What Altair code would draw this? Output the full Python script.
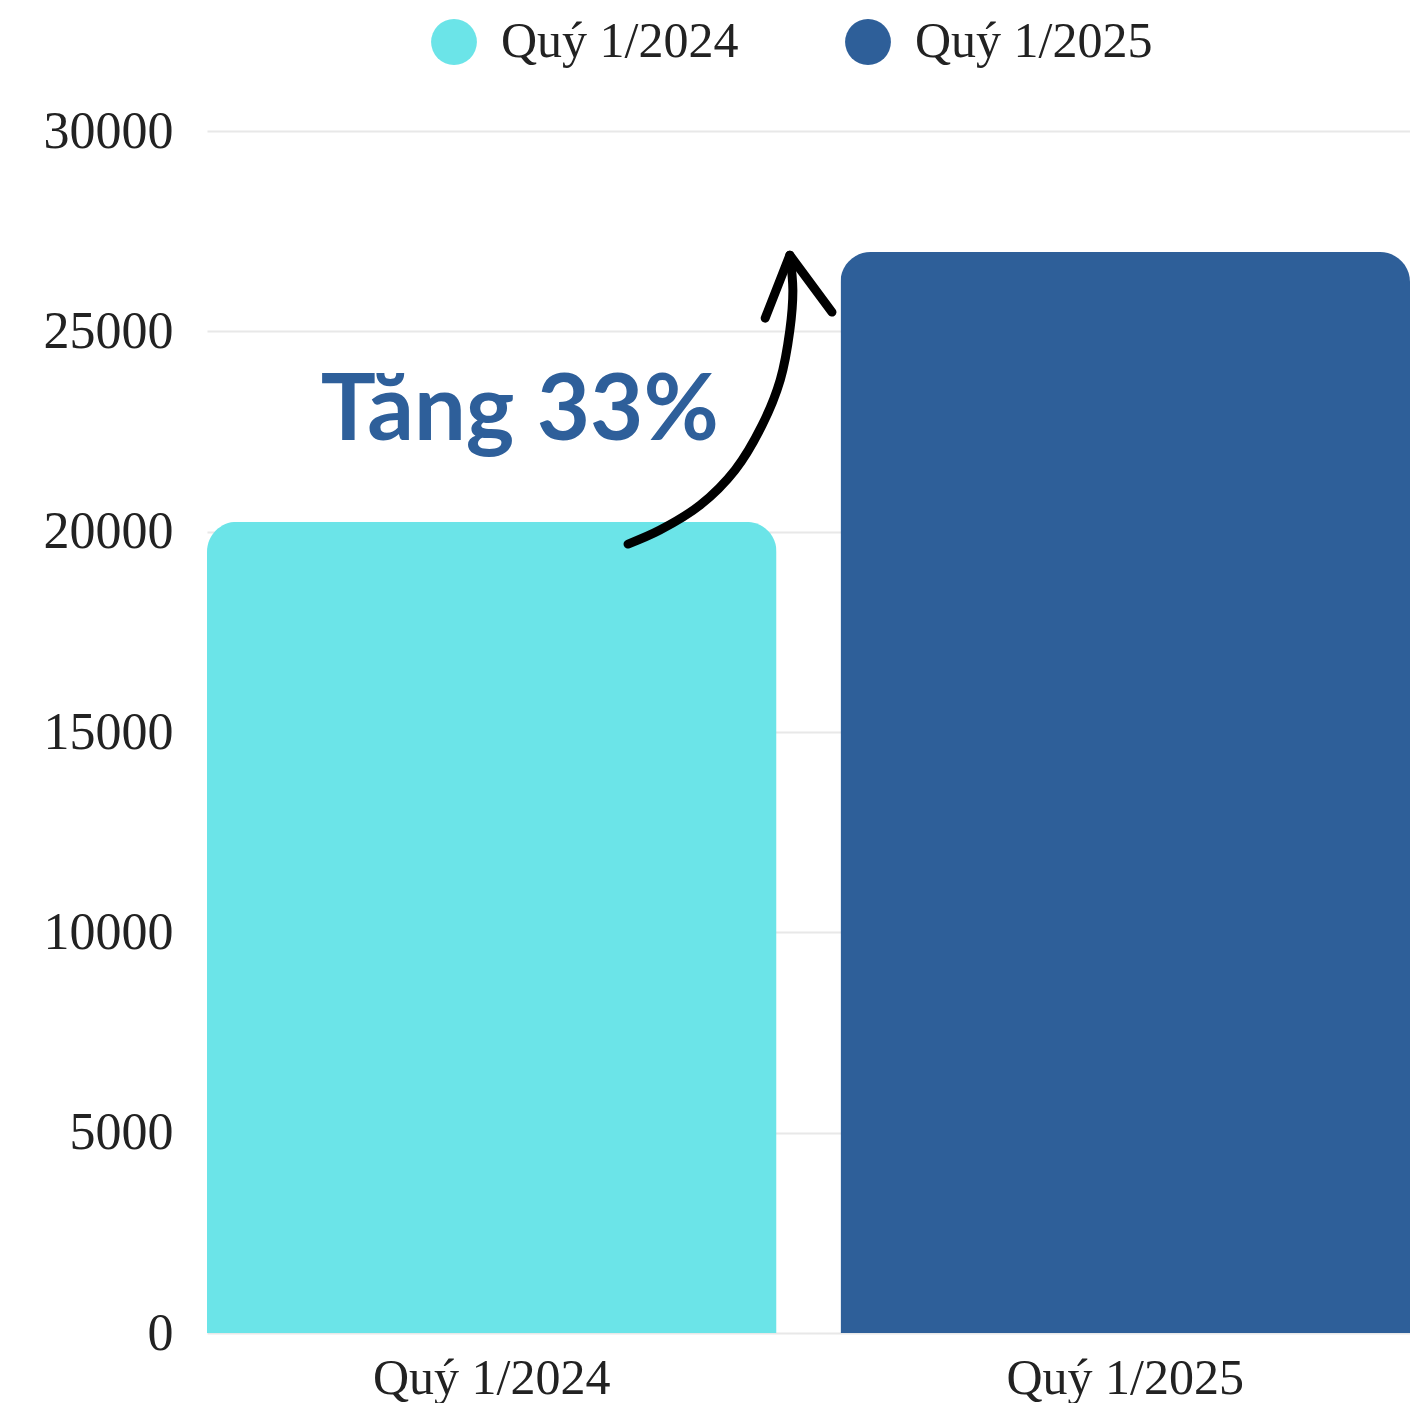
import altair as alt
import pandas as pd

categories = ["Quý 1/2024", "Quý 1/2025"]
values = [20250, 26980]
colors = ["#6be4e8", "#2e5f99"]
y_ticks = [0, 5000, 10000, 15000, 20000, 25000, 30000]

# annotation arrow (x in band units: 0..2 across the plot, y in data units)
curve_x = [0.700, 0.753, 0.820, 0.878, 0.923, 0.953, 0.969, 0.974, 0.969]
curve_y = [19690, 20040, 20665, 21540, 22660, 23785, 25030, 26030, 26900]
head_x = [0.928, 0.969, 1.039]
head_y = [25330, 26900, 25480]
label_text = ["Tăng 33%"]
label_x = [0.52]
label_y = [22290]

serif = "Liberation Serif"

bars_df = pd.DataFrame({"cat": categories, "val": values})
curve_df = pd.DataFrame({"ax": curve_x, "val": curve_y, "o": list(range(len(curve_x)))})
head_df = pd.DataFrame({"ax": head_x, "val": head_y, "o": list(range(len(head_x)))})
label_df = pd.DataFrame({"ax": label_x, "val": label_y, "t": label_text})

y_enc = alt.Y(
    "val:Q",
    title=None,
    scale=alt.Scale(domain=[0, 30000], nice=False, zero=True),
    axis=alt.Axis(
        values=y_ticks,
        format="d",
        labelFont=serif,
        labelFontSize=52,
        labelColor="#222222",
        labelPadding=34,
        ticks=False,
        domain=False,
        grid=True,
        gridColor="#e8e8e8",
        gridWidth=2,
        labelBaseline="middle",
    ),
)

ax_scale = alt.Scale(domain=[0, 2], nice=False, zero=False)

bars = alt.Chart(bars_df).mark_bar(cornerRadiusTopLeft=30, cornerRadiusTopRight=30).encode(
    x=alt.X(
        "cat:N",
        title=None,
        sort=categories,
        scale=alt.Scale(domain=categories, paddingInner=0.101, paddingOuter=0),
        axis=alt.Axis(
            labelAngle=0,
            labelFont=serif,
            labelFontSize=50,
            labelColor="#222222",
            labelPadding=20,
            labelLimit=500,
            ticks=False,
            domain=False,
            grid=False,
        ),
    ),
    y=y_enc,
    color=alt.Color(
        "cat:N",
        scale=alt.Scale(domain=categories, range=colors),
        legend=alt.Legend(
            title=None,
            orient="none",
            direction="horizontal",
            legendX=222,
            legendY=-114,
            symbolType="circle",
            symbolSize=2100,
            symbolStrokeWidth=0,
            labelFont=serif,
            labelFontSize=50,
            labelColor="#222222",
            labelOffset=22,
            columnPadding=104,
            labelLimit=400,
        ),
    ),
)

curve = alt.Chart(curve_df).mark_line(
    color="black", strokeWidth=9, strokeCap="round", interpolate="catmull-rom"
).encode(
    x=alt.X("ax:Q", scale=ax_scale, axis=None),
    y=y_enc,
    order="o:Q",
)

head = alt.Chart(head_df).mark_line(
    color="black", strokeWidth=9, strokeCap="round", strokeJoin="round"
).encode(
    x=alt.X("ax:Q", scale=ax_scale, axis=None),
    y=y_enc,
    order="o:Q",
)

label = alt.Chart(label_df).mark_text(
    font="Lato", fontWeight="bold", fontSize=92, color="#2e5f9a",
    align="center", baseline="alphabetic",
).encode(
    x=alt.X("ax:Q", scale=ax_scale, axis=None),
    y=y_enc,
    text="t:N",
)

chart = (
    alt.layer(bars, curve, head, label)
    .resolve_scale(x="independent")
    .properties(
        width=1203,
        height=1202,
        background="white",
        autosize=alt.AutoSizeParams(type="none"),
        padding={"left": 199, "top": 123, "right": 0, "bottom": 70},
    )
    .configure_view(strokeWidth=0, strokeOpacity=0)
    .configure_axisX(grid=False, domain=False)
    .configure_axisY(domain=False)
)

chart.save("out.html", embed_options={"renderer": "svg", "actions": False})
